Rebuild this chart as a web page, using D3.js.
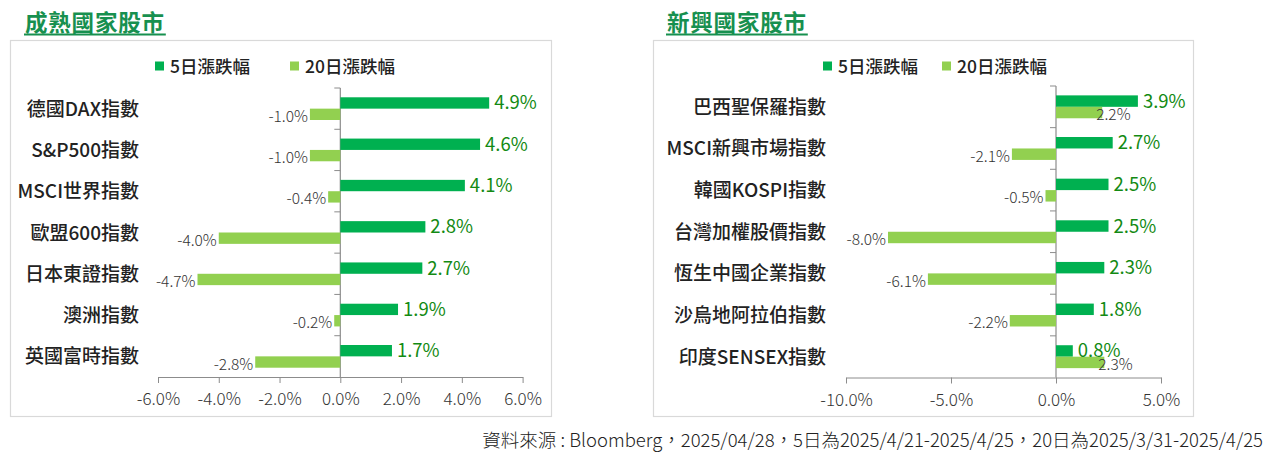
<!DOCTYPE html>
<html><head><meta charset="utf-8">
<script src="https://cdn.jsdelivr.net/npm/d3@7"></script>
<style>
html,body{margin:0;padding:0;background:#fff;}
svg{display:block;}
text{font-family:"Noto Sans CJK TC","Noto Sans",sans-serif;}
</style></head>
<body>
<svg id="chart" width="1269" height="454"></svg>
<script>
// ---- data ----
const devCategories = ["德國DAX指數","S&P500指數","MSCI世界指數","歐盟600指數","日本東證指數","澳洲指數","英國富時指數"];
const dev5d  = [4.9, 4.6, 4.1, 2.8, 2.7, 1.9, 1.7];
const dev20d = [-1.0, -1.0, -0.4, -4.0, -4.7, -0.2, -2.8];
const devTicks = [-6, -4, -2, 0, 2, 4, 6];

const emCategories = ["巴西聖保羅指數","MSCI新興市場指數","韓國KOSPI指數","台灣加權股價指數","恆生中國企業指數","沙烏地阿拉伯指數","印度SENSEX指數"];
const em5d  = [3.9, 2.7, 2.5, 2.5, 2.3, 1.8, 0.8];
const em20d = [2.2, -2.1, -0.5, -8.0, -6.1, -2.2, 2.3];
const emTicks = [-10, -5, 0, 5];

const seriesNames = ["5日漲跌幅","20日漲跌幅"];
const titles = ["成熟國家股市","新興國家股市"];
const sourceNote = "資料來源 : Bloomberg，2025/04/28，5日為2025/4/21-2025/4/25，20日為2025/3/31-2025/4/25";

// ---- style ----
const C5 = "#00b050", C20 = "#92d050", TITLE = "#17904f", LBL5 = "#138a13", AXIS = "#8c8c8c", TXT = "#222";

const svg = d3.select("#chart");
const fmt = v => v.toFixed(1) + "%";

function panel(o) {
  const g = svg.append("g");
  // box
  g.append("rect").attr("x", o.box[0] + 0.5).attr("y", o.box[1] + 0.5)
    .attr("width", o.box[2]).attr("height", o.box[3])
    .attr("fill", "none").attr("stroke", "#d9d9d9").attr("stroke-width", 1.2);
  // title
  const t = g.append("text").attr("x", o.titleX).attr("y", 30.5)
    .attr("font-size", 22.5).attr("font-weight", 700).attr("fill", TITLE)
    .attr("letter-spacing", 0.8).text(o.title);
  const tw = t.node().getComputedTextLength();
  g.append("line").attr("x1", o.titleX - 1).attr("x2", o.titleX + tw + 1)
    .attr("y1", 34.5).attr("y2", 34.5).attr("stroke", TITLE).attr("stroke-width", 2);

  // legend
  const colors = [C5, C20];
  o.legendX.forEach((lx, i) => {
    g.append("rect").attr("x", lx).attr("y", 61.5).attr("width", 9).attr("height", 9).attr("fill", colors[i]);
    g.append("text").attr("x", lx + 15).attr("y", 72.5).attr("font-size", 17.5)
      .attr("font-weight", 500).attr("fill", TXT).text(seriesNames[i]);
  });

  const x = d3.scaleLinear().domain(o.domain).range(o.xRange);
  const y = d3.scaleBand().domain(o.categories).range(o.yRange).paddingInner(0).paddingOuter(0);
  const bandH = y.bandwidth();
  const sub = d3.scaleBand().domain([0, 1]).range([bandH * 0.225, bandH * 0.775]);

  // x axis
  const xAxis = d3.axisBottom(x).tickValues(o.ticks).tickFormat(fmt).tickSize(6).tickSizeOuter(0).tickPadding(10);
  const ax = g.append("g").attr("transform", `translate(0,${o.yRange[1]})`).call(xAxis);
  ax.select(".domain").attr("stroke", AXIS);
  ax.selectAll(".tick line").attr("stroke", AXIS);
  ax.selectAll(".tick text").attr("font-size", 17).attr("fill", "#333").attr("font-weight", 300)
    .attr("font-family", "'Noto Sans CJK TC', sans-serif");

  // vertical zero axis with ticks at band boundaries
  g.append("line").attr("x1", x(0)).attr("x2", x(0)).attr("y1", o.yRange[0]).attr("y2", o.yRange[1])
    .attr("stroke", AXIS).attr("stroke-width", 1.2);
  const bounds = o.categories.map(c => y(c));
  g.selectAll(".ytick").data(bounds).enter().append("line")
    .attr("x1", x(0) - 6).attr("x2", x(0)).attr("y1", d => d).attr("y2", d => d)
    .attr("stroke", AXIS);

  // category labels
  g.selectAll(".cat").data(o.categories).enter().append("text")
    .attr("x", o.catX).attr("y", d => y(d) + bandH / 2 + 7)
    .attr("text-anchor", "end").attr("font-size", 19).attr("font-weight", 500).attr("fill", TXT)
    .text(d => d);

  // bars
  const series = [o.v5, o.v20];
  series.forEach((vals, si) => {
    g.selectAll(".bar" + si).data(vals).enter().append("rect")
      .attr("x", d => Math.min(x(0), x(d)))
      .attr("width", d => Math.abs(x(d) - x(0)))
      .attr("y", (d, i) => y(o.categories[i]) + sub(si))
      .attr("height", sub.bandwidth())
      .attr("fill", si === 0 ? C5 : C20);
  });

  // labels 5d
  g.selectAll(".l5").data(o.v5).enter().append("text")
    .attr("x", d => x(d) + 5)
    .attr("y", (d, i) => y(o.categories[i]) + sub(0) + sub.bandwidth() / 2 + 6.5)
    .attr("font-size", 18.5).attr("fill", LBL5).attr("font-family", "'Noto Sans', sans-serif")
    .text(fmt);
  // labels 20d
  g.selectAll(".l20").data(o.v20).enter().append("text")
    .attr("x", d => d < 0 ? x(d) - 2 : x(d) - 6)
    .attr("text-anchor", d => d < 0 ? "end" : "start")
    .attr("y", (d, i) => y(o.categories[i]) + sub(1) + sub.bandwidth() / 2 + 7.5)
    .attr("font-size", 15.5).attr("fill", "#333").attr("font-weight", 300)
    .attr("font-family", "'Noto Sans CJK TC', sans-serif")
    .text(fmt);
}

panel({
  box: [10, 40, 541, 376], title: titles[0], titleX: 25, legendX: [155, 290],
  categories: devCategories, v5: dev5d, v20: dev20d, ticks: devTicks,
  domain: [-6, 6], xRange: [158, 522.6], yRange: [88, 377], catX: 139
});
panel({
  box: [653, 40, 540, 376], title: titles[1], titleX: 667, legendX: [823, 942],
  categories: emCategories, v5: em5d, v20: em20d, ticks: emTicks,
  domain: [-10, 5], xRange: [846, 1161], yRange: [86, 377.5], catX: 826
});

svg.append("text").attr("x", 1263).attr("y", 446.5).attr("text-anchor", "end")
  .attr("font-size", 18.5).attr("font-weight", 300).attr("fill", TXT).text(sourceNote);
</script>
</body></html>
